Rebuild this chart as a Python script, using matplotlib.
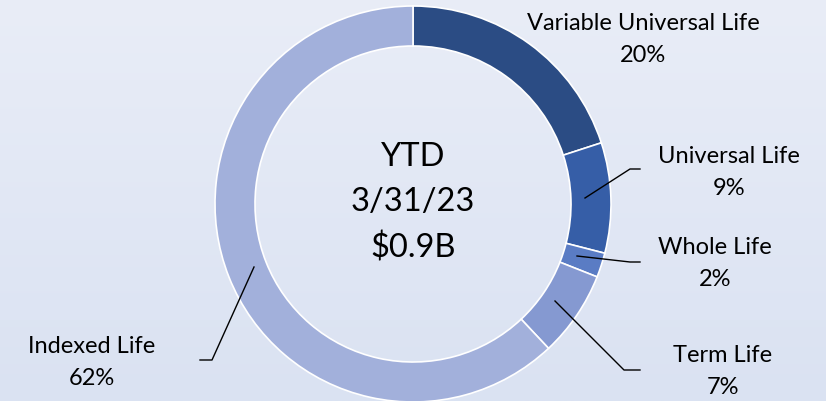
import matplotlib
matplotlib.use('Agg')
import matplotlib.pyplot as plt
import numpy as np

plt.rcParams['font.family'] = ['Lato', 'DejaVu Sans']

# data
labels = ['Variable Universal Life', 'Universal Life', 'Whole Life', 'Term Life', 'Indexed Life']
shares = [20, 9, 2, 7, 62]
colors = ['#2B4C84', '#365EA7', '#5A7CC4', '#8599D1', '#A2B0DB']
center_text = ['YTD', '3/31/23', '$0.9B']

W, H = 826, 402
fig = plt.figure(figsize=(W / 100, H / 100), dpi=100)

# gradient background
bg = fig.add_axes([0, 0, 1, 1], zorder=0)
grad = np.linspace(0, 1, 256).reshape(-1, 1)
top = np.array([233, 237, 247]) / 255
bot = np.array([218, 226, 242]) / 255
img = top + (bot - top) * grad[..., None]
bg.imshow(img, aspect='auto', extent=[0, 1, 0, 1], origin='upper')
bg.axis('off')

ax = fig.add_axes([0, 0, 1, 1], zorder=1)
ax.patch.set_alpha(0)
cx, cy, R = 413, H - 205, 198
ax.pie(shares, colors=colors, startangle=90, counterclock=False,
       radius=R, center=(cx, cy),
       wedgeprops=dict(width=40, edgecolor='white', linewidth=1.2))
ax.set_xlim(0, W)
ax.set_ylim(0, H)
ax.set_aspect('auto')
ax.axis('off')

# center text
for i, t in enumerate(center_text):
    ax.text(cx, H - (157 + 45.5 * i), t, ha='center', va='center', fontsize=23.5)

# labels (name, pct) placement
label_pos = [(643, 23), (729, 157), (715, 248), (723, 356), (92, 347)]
for name, pct, (x, y) in zip(labels, shares, label_pos):
    ax.text(x, H - y, name, ha='center', va='center', fontsize=17)
    ax.text(x, H - (y + 32), f'{pct}%', ha='center', va='center', fontsize=17)

# leader lines
leaders = [
    [(585, 199), (630, 170), (640, 170)],
    [(577, 257), (630, 263), (640, 263)],
    [(555, 302), (624, 371), (640, 371)],
    [(254, 268), (212, 361), (200, 361)],
]
for pts in leaders:
    xs = [p[0] for p in pts]
    ys = [H - p[1] for p in pts]
    ax.plot(xs, ys, color='black', linewidth=1)

fig.savefig('out.png', dpi=100)
